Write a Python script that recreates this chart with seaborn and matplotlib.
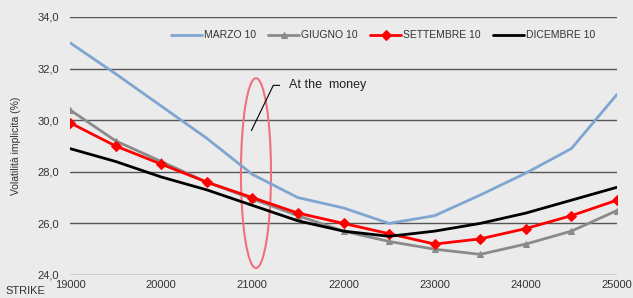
import pandas as pd
import matplotlib.pyplot as plt
import seaborn as sns
from matplotlib.patches import Ellipse
from matplotlib.ticker import FuncFormatter

strike = [19000, 19500, 20000, 20500, 21000, 21500, 22000, 22500, 23000, 23500, 24000, 24500, 25000]
marzo = [33.0, 31.8, 30.55, 29.3, 27.9, 27.0, 26.6, 26.0, 26.3, 27.1, 27.95, 28.9, 31.0]
giugno = [30.4, 29.2, 28.4, 27.6, 26.95, 26.3, 25.7, 25.3, 25.0, 24.8, 25.2, 25.7, 26.5]
settembre = [29.9, 29.0, 28.3, 27.6, 27.0, 26.4, 26.0, 25.6, 25.2, 25.4, 25.8, 26.3, 26.9]
dicembre = [28.9, 28.4, 27.8, 27.3, 26.7, 26.1, 25.7, 25.5, 25.7, 26.0, 26.4, 26.9, 27.4]

series = [
    ("MARZO 10", marzo, "#7fa6d0", None),
    ("GIUGNO 10", giugno, "#8a8a8a", "^"),
    ("SETTEMBRE 10", settembre, "#ff0000", "D"),
    ("DICEMBRE 10", dicembre, "#000000", None),
]

sns.set_style("white")
plt.rcParams['font.family'] = ['Liberation Sans', 'DejaVu Sans']
bg = "#ebebeb"

fig = plt.figure(figsize=(6.33, 2.98), dpi=100, facecolor=bg)
ax = fig.add_axes([70 / 633, 23 / 298, 547 / 633, 258 / 298])
ax.set_facecolor(bg)

for name, vals, color, marker in series:
    df = pd.DataFrame({"strike": strike, "vol": vals})
    sns.lineplot(data=df, x="strike", y="vol", ax=ax, color=color, linewidth=2,
                 marker=marker, markersize=5 if marker else 0,
                 markeredgecolor=color, label=name)

ax.set_xlim(19000, 25000)
ax.set_ylim(24, 34)
ax.set_xticks(range(19000, 25001, 1000))
ax.set_yticks([24, 26, 28, 30, 32, 34])
ax.yaxis.set_major_formatter(FuncFormatter(lambda v, p: f"{v:.1f}".replace(".", ",")))
ax.grid(axis="y", color="#555555", linewidth=1)
ax.set_axisbelow(True)
for s in ax.spines.values():
    s.set_visible(False)
ax.tick_params(axis="both", length=0, labelsize=8, colors="#333333")
ax.tick_params(axis="y", pad=8)
ax.set_xlabel("")
ax.set_ylabel("Volatilità implicita (%)", fontsize=7.5, color="#333333", labelpad=12)
fig.text(5 / 633, 1 - 291 / 298, "STRIKE", fontsize=8, color="#333333", va="center")

ell = Ellipse((21040, 27.95), 330, 7.36, fill=False, edgecolor="#f07080", linewidth=1.5, clip_on=False)
ax.add_patch(ell)
ax.plot([20990, 21230, 21300], [29.6, 31.35, 31.35], color="black", linewidth=0.8)
ax.text(21400, 31.35, "At the  money", fontsize=9, va="center", color="#222222")

ax.legend(loc="upper center", bbox_to_anchor=(0.572, 0.985), ncol=4, frameon=False,
          fontsize=7.5, handlelength=3.0, handletextpad=0.15, columnspacing=1.2,
          labelcolor="#333333")

fig.savefig("out.png", dpi=100, facecolor=bg)
